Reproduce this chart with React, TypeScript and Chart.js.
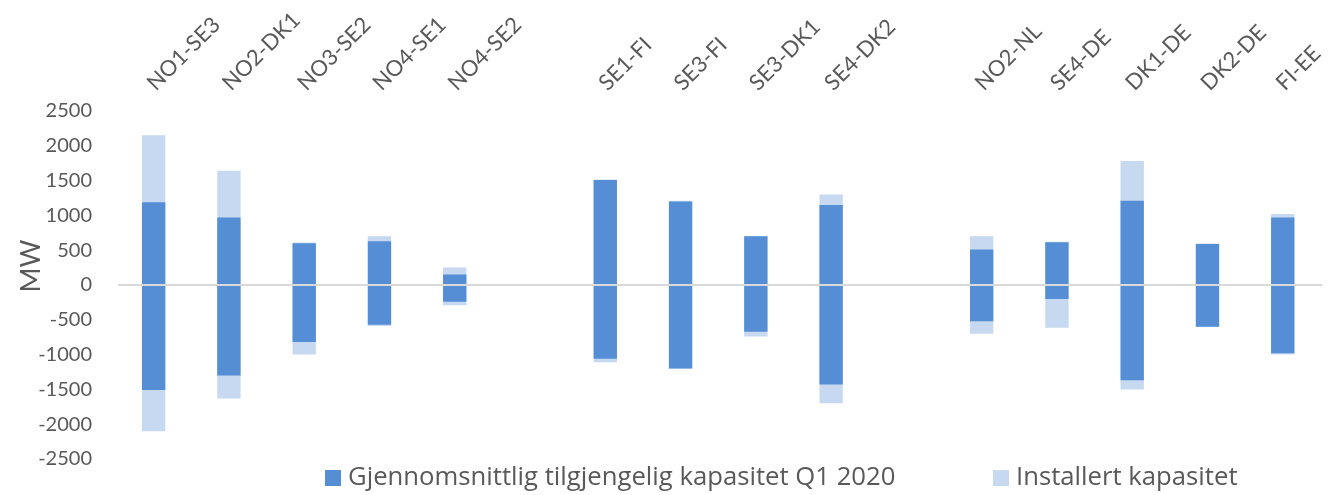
import React, { useEffect, useRef } from 'react';
import { Chart, registerables } from 'chart.js';

Chart.register(...registerables);

// ---- data (MW) ----
const categories = [
  'NO1-SE3', 'NO2-DK1', 'NO3-SE2', 'NO4-SE1', 'NO4-SE2', '',
  'SE1-FI', 'SE3-FI', 'SE3-DK1', 'SE4-DK2', '',
  'NO2-NL', 'SE4-DE', 'DK1-DE', 'DK2-DE', 'FI-EE',
];
const availableExport = [1190, 970, 600, 630, 150, null, 1510, 1200, 700, 1150, null, 510, 615, 1210, 590, 970];
const availableImport = [-1510, -1300, -820, -570, -240, null, -1060, -1200, -670, -1430, null, -520, -200, -1370, -600, -980];
const installedExport = [2150, 1640, 610, 700, 250, null, 1515, 1210, 705, 1300, null, 700, 620, 1780, 595, 1020];
const installedImport = [-2100, -1630, -1000, -590, -290, null, -1110, -1205, -740, -1700, null, -700, -615, -1500, -605, -1000];

const seriesNames = ['Gjennomsnittlig tilgjengelig kapasitet Q1 2020', 'Installert kapasitet'];
const yAxisTitle = 'MW';
const yMin = -2500;
const yMax = 2500;
const yStep = 500;

// ---- style ----
const DARK = '#558ED5';
const LIGHT = '#C6D9F1';
const TEXT = '#595959';
const TICK_FONT = 'Lato, "Open Sans", sans-serif';
const LEGEND_FONT = '"Open Sans", sans-serif';

const overlayPlugin = {
  id: 'overlay',
  afterDatasetsDraw(chart: any) {
    const { ctx, chartArea, scales } = chart;
    const y0 = scales.y.getPixelForValue(0);
    ctx.save();
    ctx.strokeStyle = '#D9D9D9';
    ctx.lineWidth = 2;
    ctx.beginPath();
    ctx.moveTo(chartArea.left + 2, y0);
    ctx.lineTo(chartArea.right + 2, y0);
    ctx.stroke();
    ctx.restore();
  },
  afterDraw(chart: any) {
    const { ctx } = chart;
    ctx.save();
    // y axis title
    ctx.fillStyle = TEXT;
    ctx.font = `27px ${TICK_FONT}`;
    ctx.textAlign = 'center';
    ctx.textBaseline = 'middle';
    ctx.translate(31, 266);
    ctx.rotate(-Math.PI / 2);
    ctx.fillText(yAxisTitle, 0, 0);
    ctx.restore();

    // legend
    const starts = [325, 993];
    const cy = 478;
    ctx.save();
    ctx.font = `25.7px ${LEGEND_FONT}`;
    ctx.textBaseline = 'middle';
    ctx.textAlign = 'left';
    chart.data.datasets.forEach((ds: any, i: number) => {
      const x = starts[i];
      ctx.fillStyle = ds.backgroundColor;
      ctx.fillRect(x, cy - 8, 16, 16);
      ctx.fillStyle = TEXT;
      ctx.fillText(ds.label, x + 23, cy);
    });
    ctx.restore();
  },
};

export default function App() {
  const canvasRef = useRef<HTMLCanvasElement | null>(null);

  useEffect(() => {
    document.body.style.margin = '0';
    const canvas = canvasRef.current;
    if (!canvas) return;
    const chart = new Chart(canvas, {
      type: 'bar',
      data: {
        labels: categories,
        datasets: [
          {
            label: seriesNames[0],
            data: categories.map((_, i) =>
              availableExport[i] == null ? null : [availableImport[i] as number, availableExport[i] as number]
            ) as any,
            backgroundColor: DARK,
            borderWidth: 0,
            grouped: false,
            barPercentage: 0.31,
            categoryPercentage: 1,
          } as any,
          {
            label: seriesNames[1],
            data: categories.map((_, i) =>
              installedExport[i] == null ? null : [installedImport[i] as number, installedExport[i] as number]
            ) as any,
            backgroundColor: LIGHT,
            borderWidth: 0,
            grouped: false,
            barPercentage: 0.31,
            categoryPercentage: 1,
          } as any,
        ],
      },
      options: {
        animation: false,
        responsive: false,
        maintainAspectRatio: false,
        layout: { padding: { top: 0, right: 11, bottom: 34, left: 0 } },
        plugins: {
          legend: { display: false },
          tooltip: { enabled: false },
        },
        scales: {
          x: {
            type: 'category',
            position: 'bottom',
            display: false,
            offset: true,
          },
          x2: {
            type: 'category',
            position: 'top',
            offset: true,
            grid: { display: false, drawTicks: false },
            border: { display: false },
            ticks: {
              autoSkip: false,
              minRotation: 45,
              maxRotation: 45,
              padding: 15,
              labelOffset: 16,
              color: TEXT,
              font: { family: TICK_FONT, size: 22 },
            },
            afterFit: (scale: any) => {
              scale.height = 111;
            },
          },
          y: {
            min: yMin,
            max: yMax,
            grid: { display: false, drawTicks: false },
            border: { display: false },
            ticks: {
              stepSize: yStep,
              padding: 24,
              color: TEXT,
              font: { family: TICK_FONT, size: 20 },
              callback: (v: any) => String(v),
            },
            afterFit: (scale: any) => {
              scale.width = 116;
            },
          },
        } as any,
      },
      plugins: [overlayPlugin],
    });
    return () => chart.destroy();
  }, []);

  return (
    <div style={{ width: 1335, height: 495 }}>
      <canvas ref={canvasRef} width={1335} height={495} />
    </div>
  );
}
